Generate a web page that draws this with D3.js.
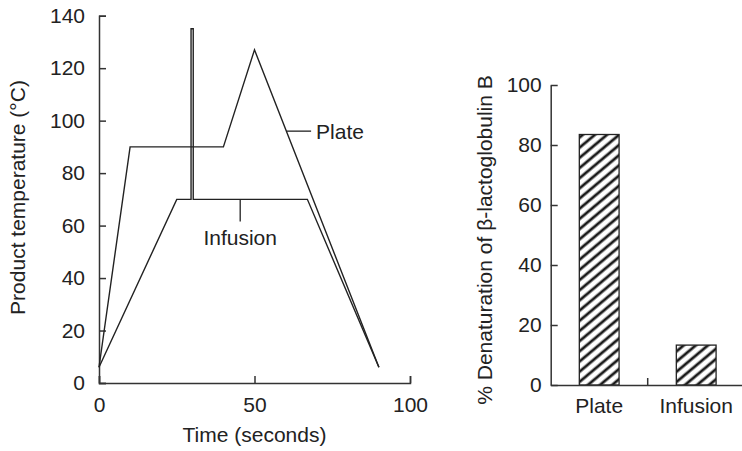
<!DOCTYPE html>
<html>
<head>
<meta charset="utf-8">
<script src="https://cdn.jsdelivr.net/npm/d3@7"></script>
<style>
  body { margin: 0; background: #fff; }
  svg { display: block; }
  text { font-family: "Liberation Sans", Arial, Helvetica, sans-serif; fill: #222; }
  .axis path, .axis line { stroke: #333; stroke-width: 1.5; }
  .axis text { font-size: 21px; fill: #222; }
</style>
</head>
<body>
<svg id="fig" width="742" height="451"></svg>
<script>
// left panel: product temperature profiles
let plateTime = [0, 10, 40, 50, 90]
let plateTemp = [6, 90, 90, 127, 6]
let infusionTime = [0, 25, 29.6, 29.6, 30.3, 30.3, 67, 90]
let infusionTemp = [6, 70, 70, 135, 135, 70, 70, 6]
let timeTicks = [0, 50, 100]
let tempTicks = [0, 20, 40, 60, 80, 100, 120, 140]

// right panel: denaturation bars
let methods = ["Plate", "Infusion"]
let denaturation = [83.5, 13.3]
let pctTicks = [0, 20, 40, 60, 80, 100]

let svg = d3.select("#fig")
let ink = "#222"

// ---------- left chart ----------
let xScale = d3.scaleLinear().domain([0, 100]).range([99, 410])
let yScale = d3.scaleLinear().domain([0, 140]).range([383, 15.7])

let x_axis = d3.axisBottom(xScale).tickValues(timeTicks).tickSizeInner(-7).tickSizeOuter(-7).tickPadding(14)
let y_axis = d3.axisLeft(yScale).tickValues(tempTicks).tickSizeInner(-7).tickSizeOuter(-7).tickPadding(14)

svg.append("g").attr("class", "axis").attr("transform", `translate(0,${yScale(0)})`).call(x_axis)
svg.append("g").attr("class", "axis").attr("transform", `translate(${xScale(0)},0)`).call(y_axis)

let line = d3.line().x(d => xScale(d[0])).y(d => yScale(d[1]))

svg.append("path")
    .attr("d", line(plateTime.map((t, i) => [t, plateTemp[i]])))
    .attr("fill", "none").attr("stroke", ink).attr("stroke-width", 1.4)

svg.append("path")
    .attr("d", line(infusionTime.map((t, i) => [t, infusionTemp[i]])))
    .attr("fill", "none").attr("stroke", ink).attr("stroke-width", 1.4)

// labels with leader lines
svg.append("line")
    .attr("x1", xScale(60.3)).attr("x2", xScale(68.2))
    .attr("y1", yScale(96)).attr("y2", yScale(96))
    .attr("stroke", ink).attr("stroke-width", 1.3)
svg.append("text")
    .attr("x", xScale(69.8)).attr("y", yScale(96)).attr("dy", "0.36em")
    .style("font-size", "21px").text("Plate")

svg.append("line")
    .attr("x1", xScale(45.4)).attr("x2", xScale(45.4))
    .attr("y1", yScale(70)).attr("y2", yScale(61.6))
    .attr("stroke", ink).attr("stroke-width", 1.3)
svg.append("text")
    .attr("x", xScale(45.4)).attr("y", yScale(52.7))
    .attr("text-anchor", "middle")
    .style("font-size", "21px").text("Infusion")

// axis titles
svg.append("text")
    .attr("transform", `translate(${xScale(50)},442)`)
    .attr("text-anchor", "middle")
    .style("font-size", "21px").text("Time (seconds)")
svg.append("text")
    .attr("transform", `translate(25,197.5) rotate(-90)`)
    .attr("text-anchor", "middle")
    .style("font-size", "21px").text("Product temperature (°C)")

// ---------- right chart ----------
let bandScale = d3.scaleBand().domain(methods).range([550.7, 744.7]).paddingInner(0.59).paddingOuter(0.295)
let pctScale = d3.scaleLinear().domain([0, 100]).range([385, 85])

let defs = svg.append("defs")
let pat = defs.append("pattern")
    .attr("id", "hatch")
    .attr("patternUnits", "userSpaceOnUse")
    .attr("width", 7.8).attr("height", 7.8)
    .attr("patternTransform", "rotate(50)")
pat.append("rect").attr("width", 7.8).attr("height", 7.8).attr("fill", "#fff")
pat.append("line").attr("x1", 2).attr("x2", 2).attr("y1", 0).attr("y2", 7.8)
    .attr("stroke", "#1a1a1a").attr("stroke-width", 2.8)

svg.selectAll(".bar")
    .data(methods)
    .enter()
    .append("rect")
    .attr("class", "bar")
    .attr("x", d => bandScale(d))
    .attr("width", bandScale.bandwidth())
    .attr("y", (d, i) => pctScale(denaturation[i]))
    .attr("height", (d, i) => pctScale(0) - pctScale(denaturation[i]))
    .attr("fill", "url(#hatch)")
    .attr("stroke", ink).attr("stroke-width", 1.3)

let b_axis = d3.axisBottom(bandScale).tickSize(0).tickPadding(13)
svg.append("g").attr("class", "axis").attr("transform", `translate(0,${pctScale(0)})`).call(b_axis)

// divider tick between the two categories
let divX = bandScale(methods[1]) - bandScale.step() * bandScale.paddingInner() / 2
svg.append("line")
    .attr("x1", divX).attr("x2", divX)
    .attr("y1", pctScale(0)).attr("y2", pctScale(0) - 7)
    .attr("stroke", "#333").attr("stroke-width", 1.5)

let p_axis = d3.axisLeft(pctScale).tickValues(pctTicks).tickSizeInner(-7).tickSizeOuter(0).tickPadding(9)
svg.append("g").attr("class", "axis").attr("transform", `translate(${bandScale.range()[0]},0)`).call(p_axis)

svg.append("text")
    .attr("transform", `translate(492,240) rotate(-90)`)
    .attr("text-anchor", "middle")
    .style("font-size", "21px").text("% Denaturation of β-lactoglobulin B")
</script>
</body>
</html>
